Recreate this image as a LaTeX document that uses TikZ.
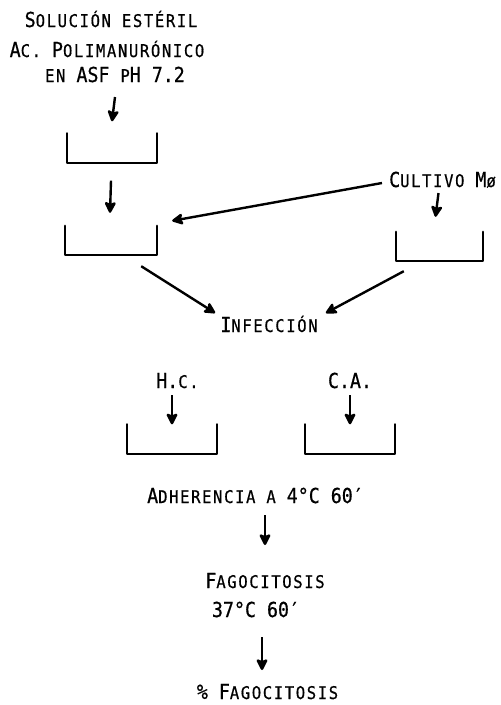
\documentclass[tikz,border=0pt]{standalone}
\usepackage{fontspec}
\usetikzlibrary{arrows.meta}
\newfontfamily\capfam[FakeStretch=0.887,FakeBold=0.6]{DejaVu Sans Mono}
\newfontfamily\smfam[FakeStretch=0.887,FakeBold=0.6,LetterSpace=9.4]{DejaVu Sans Mono}
\newcommand\Cp[1]{{\capfam\fontsize{20.6}{24}\selectfont #1}}
\newcommand\Sm[1]{{\smfam\fontsize{17.5}{20}\selectfont #1}}
\tikzset{
  txt/.style={inner sep=0pt, anchor=base},
  ubox/.style={inner sep=0pt, minimum width=#1, minimum height=29pt},
  arr/.style={-{Stealth[length={13pt 0 0},width={13pt 0 0},inset={2.5pt 0 0},round]}, line width=2.4pt},
  ln/.style={line width=2.4pt, line cap=round, line join=round}
}
\begin{document}
\begin{tikzpicture}[x=1pt,y=-1pt]
\useasboundingbox (0,0) rectangle (501,705);
% texts
\node[txt] (t1) at (111,27) {\Cp{S}\Sm{OLUCIÓN ESTÉRIL}};
\node[txt] (t2) at (107,57) {\Cp{A}\Sm{C. }\Cp{P}\Sm{OLIMANURÓNICO}};
\node[txt] (t3) at (115,82) {\Sm{EN }\Cp{ASF }\Sm{P}\Cp{H 7.2}};
\node[txt] (cult) at (442.5,187) {\Cp{C}\Sm{ULTIVO }\Cp{M}\Sm{ø}};
\node[txt] (infe) at (269,332) {\Cp{I}\Sm{NFECCIÓN}};
\node[txt] (hc) at (177.5,388) {\Cp{H.}\Sm{C.}};
\node[txt] (ca) at (350,388) {\Cp{C.A.}};
\node[txt] (adh) at (255.5,503) {\Cp{A}\Sm{DHERENCIA A }\Cp{4°C 60′}};
\node[txt] (fag) at (265,588) {\Cp{F}\Sm{AGOCITOSIS}};
\node[txt] (t37) at (256,617) {\Cp{37°C 60′}};
\node[txt] (pct) at (267.5,699) {\Cp{\% F}\Sm{AGOCITOSIS}};
% boxes (open at top)
\node[ubox=90pt] (b1) at (112,148) {};
\node[ubox=92pt] (b2) at (111,240.5) {};
\node[ubox=87pt] (b3) at (439.5,246.5) {};
\node[ubox=90pt] (b4) at (172,439) {};
\node[ubox=90pt] (b5) at (350,439) {};
\foreach \b in {b1,b2,b3,b4,b5}
  \draw[ln] (\b.north west) -- (\b.south west) -- (\b.south east) -- (\b.north east);
% arrows
\draw[arr] ([shift={(0,15)}]t3.base) -- ([shift={(0,-12)}]b1.north);
\draw[arr] ([shift={(-1,18)}]b1.south) -- ([shift={(-1,-13)}]b2.north);
\draw[arr] ([shift={(-4,6)}]cult.base) -- ([shift={(-4,-15)}]b3.north);
\draw[arr] ([shift={(-7,-4)}]cult.base west) -- ([shift={(15,-5)}]b2.north east);
\draw[arr] ([shift={(-16,11)}]b2.south east) -- ([shift={(-5,-19)}]infe.base west);
\draw[arr] ([shift={(8,10)}]b3.south west) -- ([shift={(8,-19)}]infe.base east);
\draw[arr] ([shift={(-5.5,7)}]hc.base) -- (b4.north);
\draw[arr] ([shift={(0,7)}]ca.base) -- (b5.north);
\draw[arr] ([shift={(9.5,12)}]adh.base) -- ([shift={(9.5,42)}]adh.base);
\draw[arr] ([shift={(6,20)}]t37.base) -- ([shift={(6,53)}]t37.base);
\end{tikzpicture}
\end{document}
